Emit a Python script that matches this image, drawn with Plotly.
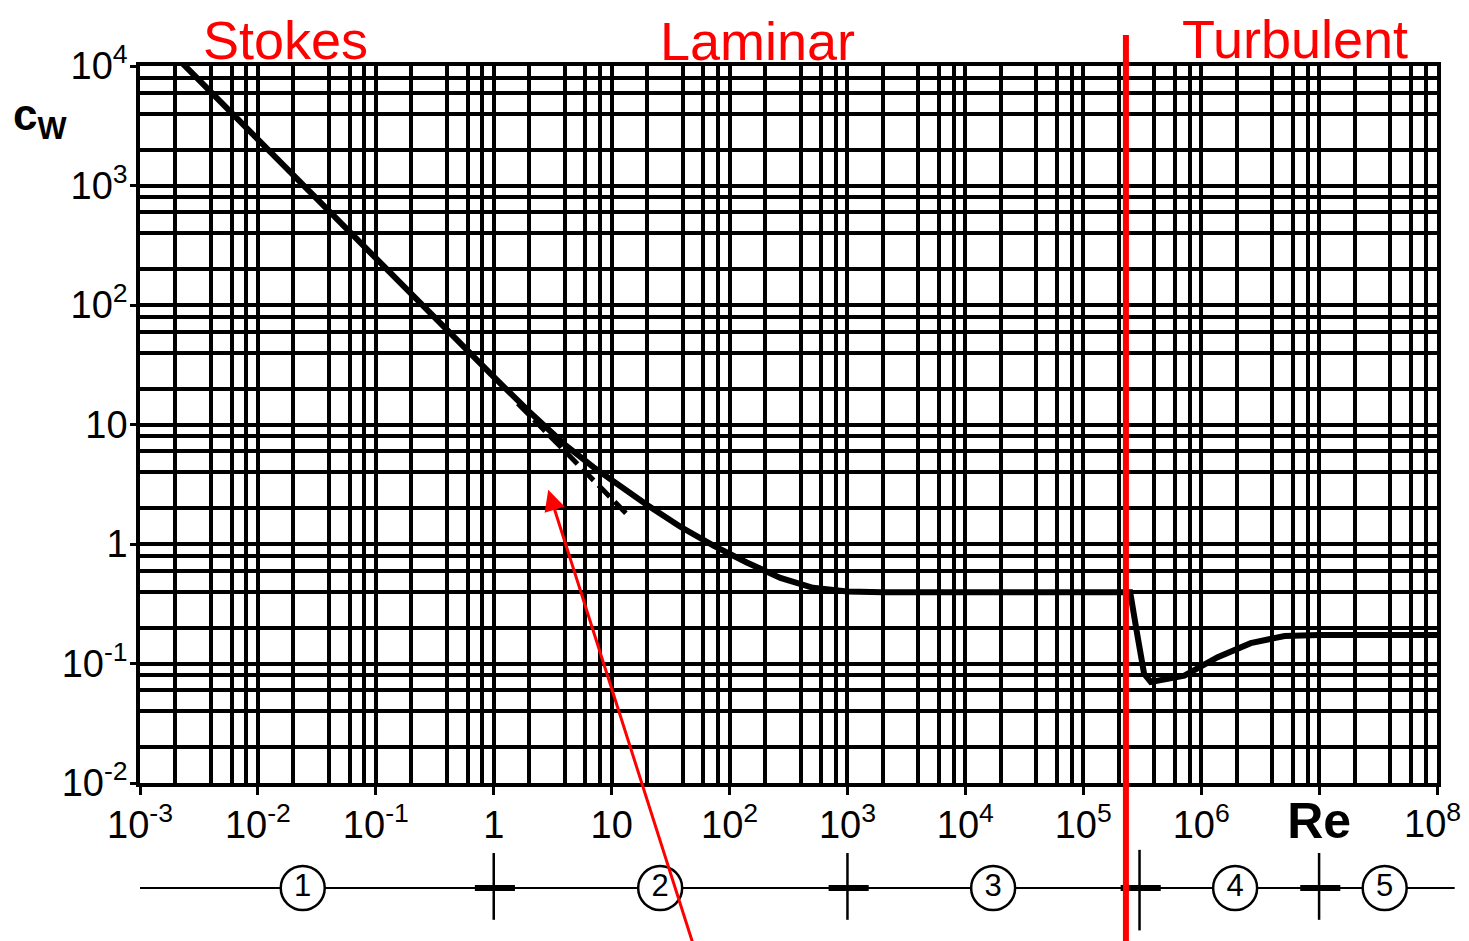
import math
import plotly.graph_objects as go

# ---------------- data ----------------
re_main = [1e-3, 1e-2, 1e-1, 1, 2, 4, 7, 10, 20, 38, 73, 140, 270, 510,
           1000, 2000, 1e4, 1e5, 2.5e5, 2.86e5, 3.28e5, 3.74e5, 5e5, 7.2e5, 1.38e6,
           2.63e6, 5.1e6, 1e7, 1e8]
cw_main = [24000, 2400, 240, 25, 12.8, 6.8, 4.4, 3.4, 2.12, 1.40, 0.97, 0.70, 0.52, 0.43,
           0.40, 0.395, 0.395, 0.395, 0.395, 0.178, 0.082, 0.070, 0.073, 0.079, 0.113,
           0.148, 0.170, 0.173, 0.173]

re_dash = [1.6, 14.0]
cw_dash = [15.0, 1.71]

x_decades = list(range(-3, 9))
x_tick_text = ["10<sup>-3</sup>", "10<sup>-2</sup>", "10<sup>-1</sup>", "1", "10",
               "10<sup>2</sup>", "10<sup>3</sup>", "10<sup>4</sup>", "10<sup>5</sup>",
               "10<sup>6</sup>", "<span style='font-size:50px'><b>Re</b></span>", ""]
x_last_label = "10<sup>8</sup>"
y_decades = list(range(-2, 5))
y_tick_text = ["10<sup>-2</sup>", "10<sup>-1</sup>", "1", "10", "10<sup>2</sup>",
               "10<sup>3</sup>", "10<sup>4</sup>"]
minor_mults = [2, 4, 6, 8]

region_bounds = [1, 1e3, 3e5, 1e7]
region_centers = [0.024, 25.8, 1.72e4, 1.94e6, 3.6e7]
region_labels = ["1", "2", "3", "4", "5"]

transition_re = 2.3e5
arrow_tip = (2.9, 2.85)
arrow_tail = (51.0, 10 ** -3.4)

region_titles = ["Stokes", "Laminar", "Turbulent"]
region_title_re = [10 ** -1.762, 10 ** 2.233, 10 ** 6.797]

# ---------------- geometry ----------------
# the page body has an 8px margin, so the figure is drawn 8px right/down
OFF = 8
W_ref, H_ref = 1469, 941
L_ref, T_ref = 140, 66
W, H = W_ref - OFF, H_ref - OFF
L, R, T, B = L_ref - OFF, 0, T_ref - OFF, 0
PW, PH = W - L - R, H - T - B
main_right_ref = 1437
main_bottom_ref = 783
decade_px = (main_right_ref - L_ref) / 11.0

x_dom = [0, (main_right_ref - L_ref) / PW]
y_dom = [(H_ref - main_bottom_ref) / PH, 1]

FONT = "Liberation Sans, Arial, sans-serif"

fig = go.Figure()

# main curve
fig.add_trace(go.Scatter(x=re_main, y=cw_main, mode="lines",
                         line=dict(color="black", width=6), xaxis="x", yaxis="y",
                         showlegend=False, hoverinfo="skip"))
# dashed Stokes continuation
fig.add_trace(go.Scatter(x=re_dash, y=cw_dash, mode="lines",
                         line=dict(color="black", width=5, dash="16px,7px"),
                         xaxis="x", yaxis="y", showlegend=False, hoverinfo="skip"))

# ---------------- bottom region strip ----------------
x2_max = -3 + PW / decade_px
fig.add_trace(go.Scatter(x=[10 ** -3.02, 10 ** 8.15], y=[0, 0], mode="lines",
                         line=dict(color="black", width=2), xaxis="x2", yaxis="y2",
                         showlegend=False, hoverinfo="skip"))
bx, by = [], []
for b in region_bounds:
    bx += [b * 10 ** -0.16, b * 10 ** 0.18, None]
    by += [0, 0, None]
fig.add_trace(go.Scatter(x=bx, y=by, mode="lines", line=dict(color="black", width=6),
                         xaxis="x2", yaxis="y2", showlegend=False, hoverinfo="skip"))
vx, vy = [], []
for i, b in enumerate(region_bounds):
    lo, hi = (-0.8, 0.72) if i == 2 else (-0.6, 0.66)
    vx += [b, b, None]
    vy += [lo, hi, None]
fig.add_trace(go.Scatter(x=vx, y=vy, mode="lines", line=dict(color="black", width=2.5),
                         xaxis="x2", yaxis="y2", showlegend=False, hoverinfo="skip"))
fig.add_trace(go.Scatter(x=region_centers, y=[0] * len(region_centers), mode="markers+text",
                         marker=dict(symbol="circle", size=44, color="white",
                                     line=dict(color="black", width=2.5)),
                         text=region_labels, textposition="middle center",
                         textfont=dict(size=31, color="black", family=FONT),
                         xaxis="x2", yaxis="y2", showlegend=False, hoverinfo="skip",
                         cliponaxis=False))

tick_font = dict(size=38, color="black", family=FONT)

fig.update_layout(
    width=W, height=H, margin=dict(l=L, r=R, t=T, b=B, pad=0, autoexpand=False),
    paper_bgcolor="white", plot_bgcolor="white", showlegend=False,
    xaxis=dict(type="log", range=[-3, 8], domain=x_dom, anchor="y", automargin=False,
               tickmode="array", tickvals=[10 ** d for d in x_decades], ticktext=x_tick_text,
               showgrid=True, gridcolor="black", gridwidth=3.5,
               ticks="outside", ticklen=8, tickwidth=3, tickcolor="black",
               ticklabelstandoff=-2, tickfont=tick_font,
               showline=True, linecolor="black", linewidth=3.5, mirror=True,
               minor=dict(tickvals=[m * 10 ** d for d in x_decades[:-1] for m in minor_mults],
                          showgrid=True, gridcolor="black", gridwidth=3.5, ticks=""),
               zeroline=False),
    yaxis=dict(type="log", range=[-2, 4], domain=y_dom, anchor="x", automargin=False,
               tickmode="array", tickvals=[10 ** d for d in y_decades], ticktext=y_tick_text,
               showgrid=True, gridcolor="black", gridwidth=3.5,
               ticks="outside", ticklen=6, tickwidth=3, tickcolor="black",
               ticklabelstandoff=-5, tickfont=tick_font,
               showline=True, linecolor="black", linewidth=3.5, mirror=True,
               minor=dict(tickvals=[m * 10 ** d for d in y_decades[:-1] for m in minor_mults],
                          showgrid=True, gridcolor="black", gridwidth=3.5, ticks=""),
               zeroline=False),
    xaxis2=dict(type="log", range=[-3, x2_max], domain=[0, 1], anchor="y2", visible=False,
                automargin=False),
    yaxis2=dict(range=[-1, 1], domain=[0, 106 / PH], anchor="x2", visible=False,
                automargin=False),
)

# last x tick label, kept inside the page (right-aligned at the edge)
fig.add_annotation(x=(1463 - L_ref) / PW, y=(H_ref - 821) / PH, xref="paper", yref="paper",
                   text=x_last_label, showarrow=False, xanchor="right", yanchor="middle",
                   font=tick_font)

# red transition line (shape x in data units)
fig.add_shape(type="line", xref="x", yref="paper",
              x0=transition_re, x1=transition_re,
              y0=-0.02, y1=1 + (T_ref - 35) / PH,
              line=dict(color="#FF0000", width=6), layer="above")

# red arrow (annotation positions on log axes are log10 values)
fig.add_annotation(x=math.log10(arrow_tip[0]), y=math.log10(arrow_tip[1]),
                   ax=math.log10(arrow_tail[0]), ay=math.log10(arrow_tail[1]),
                   xref="x", yref="y", axref="x", ayref="y", text="",
                   showarrow=True, arrowhead=2, arrowsize=1.4, arrowwidth=3,
                   arrowcolor="#FF0000", standoff=0)

# red region titles
title_y_ref = [40, 41, 39]
for t, xr, ypx in zip(region_titles, region_title_re, title_y_ref):
    fig.add_annotation(x=math.log10(xr), y=1 + (T_ref - ypx) / PH, xref="x", yref="paper",
                       text=t, showarrow=False, xanchor="center", yanchor="middle",
                       borderpad=0,
                       font=dict(size=54, color="#FF0000", family=FONT))

# y-axis label
fig.add_annotation(x=(40 - L_ref) / PW, y=1 - (118 - T_ref) / PH, xref="paper", yref="paper",
                   text="<b>c<sub>W</sub></b>", showarrow=False,
                   xanchor="center", yanchor="middle",
                   font=dict(size=44, color="black", family=FONT))

fig.write_html("out.html")
